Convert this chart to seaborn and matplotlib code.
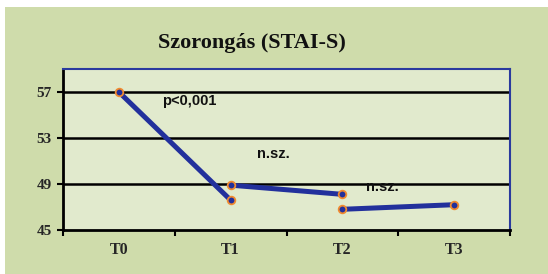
import pandas as pd
import matplotlib.pyplot as plt
import seaborn as sns

# data
categories = ["T0", "T1", "T2", "T3"]
seg_ids = [1, 1, 2, 2, 3, 3]
seg_pos = [0, 1, 1, 2, 2, 3]
seg_scores = [57.0, 47.6, 48.9, 48.1, 46.8, 47.2]
yticks = [45, 49, 53, 57]

notes = ["p<0,001", "n.sz.", "n.sz."]
note_x = [0.63, 1.38, 2.36]
note_y = [56.2, 51.6, 48.7]

df = pd.DataFrame({"seg": seg_ids, "pos": seg_pos, "score": seg_scores})

sns.set_style("white")
fig = plt.figure(figsize=(5.48, 2.74), dpi=100)
fig.patch.set_facecolor("white")
# green panel behind everything
panel = plt.Rectangle((0.009, 0.0), 0.991, 0.975, transform=fig.transFigure,
                      facecolor="#cfdcab", edgecolor="none", zorder=-5)
fig.patches.append(panel)
ax = fig.add_axes([63 / 548, 1 - 230 / 274, (510 - 63) / 548, (230 - 69) / 274])
ax.set_zorder(2)
ax.set_facecolor("#e1eacd")

line_col = "#22309c"
sns.lineplot(data=df, x="pos", y="score", units="seg", estimator=None, ax=ax,
             color=line_col, linewidth=3.6, marker="o", markersize=5.5,
             markerfacecolor=line_col, markeredgecolor="#f08a30", markeredgewidth=1.3,
             zorder=3, legend=False)

ax.set_xlim(-0.5, 3.5)
ax.set_ylim(45, 59)
ax.set_yticks(yticks)
ax.set_yticklabels([str(t) for t in yticks], fontfamily="Liberation Serif",
                   fontweight="bold", fontsize=11)
ax.set_xticks(range(len(categories)))
ax.set_xticklabels(categories, fontfamily="Liberation Serif", fontweight="bold", fontsize=11.5)
ax.set_xticks([-0.5, 0.5, 1.5, 2.5, 3.5], minor=True)
ax.tick_params(axis="x", which="major", bottom=False, length=0, pad=9)
ax.tick_params(axis="x", which="minor", bottom=True, length=4, width=1.5,
               direction="out", color="black")
ax.tick_params(axis="y", left=True, length=4, width=1.5, direction="out",
               color="black", pad=4)
ax.set_xlabel("")
ax.set_ylabel("")

for y in yticks[1:]:
    ax.axhline(y, color="black", linewidth=1.8, zorder=1)

for side in ["left", "bottom"]:
    ax.spines[side].set_color("black")
    ax.spines[side].set_linewidth(2)
for side in ["top", "right"]:
    ax.spines[side].set_color("#2a3a9e")
    ax.spines[side].set_linewidth(1.5)

for t, x, y in zip(notes, note_x, note_y):
    ax.text(x, y, t, ha="center", va="center", fontsize=10.5, fontweight="bold",
            fontfamily="Liberation Sans", color="#111111", zorder=4)

fig.text(252 / 548, 1 - 43 / 274, "Szorongás (STAI-S)", ha="center", va="center",
         fontsize=16, fontweight="bold", fontfamily="Liberation Serif", color="#111111",
         zorder=5)

plt.savefig("out.png", dpi=100, facecolor=fig.get_facecolor())
